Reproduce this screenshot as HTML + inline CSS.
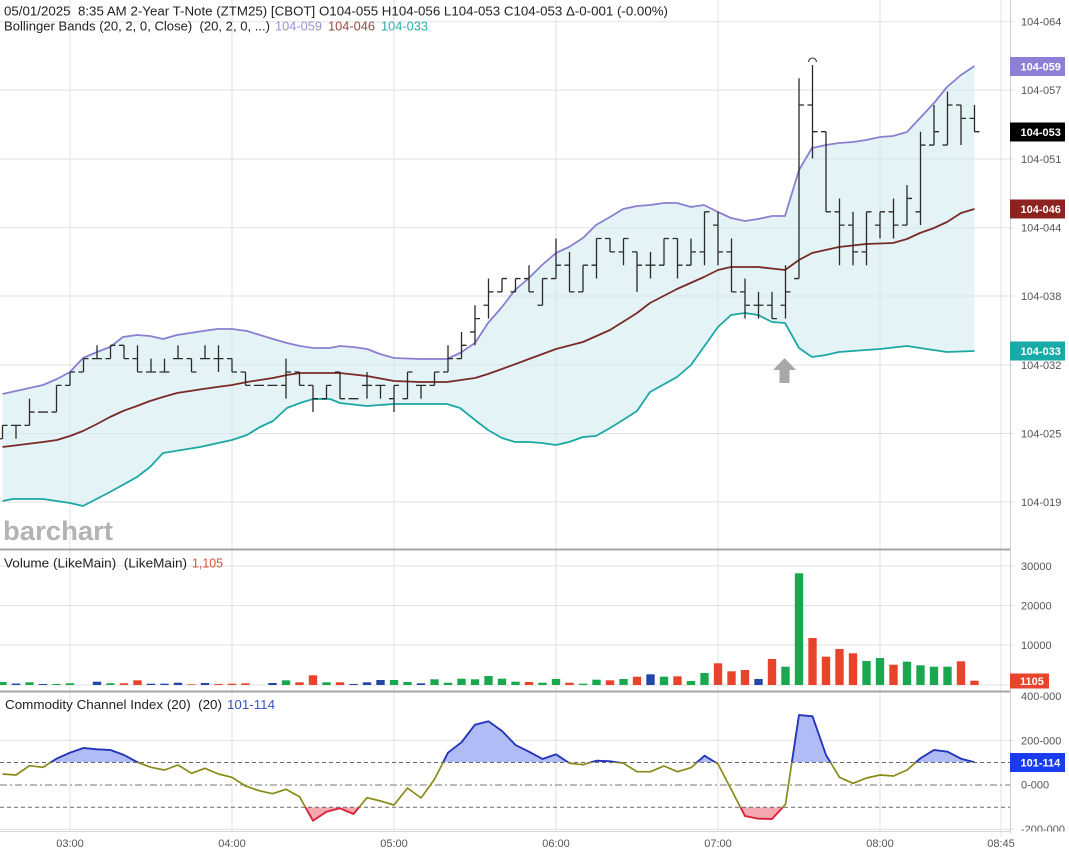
<!DOCTYPE html>
<html><head><meta charset="utf-8"><title>ZTM25 chart</title>
<style>
html,body{margin:0;padding:0;background:#fff;}
svg{display:block;}
text{font-family:"Liberation Sans",sans-serif;}
</style></head>
<body>
<svg width="1069" height="857" viewBox="0 0 1069 857" xmlns="http://www.w3.org/2000/svg">
<defs>
<clipPath id="cciAbove"><rect x="0" y="692" width="1010" height="70.3"/></clipPath>
<clipPath id="cciBelow"><rect x="0" y="807.3" width="1010" height="25"/></clipPath>
<clipPath id="axisC"><rect x="1011" y="692.5" width="58" height="139"/></clipPath>
</defs>
<rect width="1069" height="857" fill="#fff"/>

<!-- vertical gridlines -->
<g stroke="#e2e2e2" stroke-width="1">
<line x1="70" y1="0" x2="70" y2="832"/>
<line x1="232" y1="0" x2="232" y2="832"/>
<line x1="394" y1="0" x2="394" y2="832"/>
<line x1="556" y1="0" x2="556" y2="832"/>
<line x1="718" y1="0" x2="718" y2="832"/>
<line x1="880" y1="0" x2="880" y2="832"/>
<line x1="1001" y1="0" x2="1001" y2="837"/>
</g>
<!-- main horizontal gridlines -->
<g stroke="#e2e2e2" stroke-width="1">
<line x1="0" y1="21.7" x2="1014" y2="21.7"/>
<line x1="0" y1="90" x2="1014" y2="90"/>
<line x1="0" y1="159" x2="1014" y2="159"/>
<line x1="0" y1="227.7" x2="1014" y2="227.7"/>
<line x1="0" y1="296" x2="1014" y2="296"/>
<line x1="0" y1="365" x2="1014" y2="365"/>
<line x1="0" y1="433.5" x2="1014" y2="433.5"/>
<line x1="0" y1="502" x2="1014" y2="502"/>
<!-- volume -->
<line x1="0" y1="566" x2="1014" y2="566"/>
<line x1="0" y1="605.5" x2="1014" y2="605.5"/>
<line x1="0" y1="645" x2="1014" y2="645"/>
<line x1="0" y1="685" x2="1010" y2="685"/>
<!-- cci -->
<line x1="0" y1="740.5" x2="1014" y2="740.5"/>
<line x1="0" y1="829.5" x2="1014" y2="829.5"/>
</g>

<!-- Bollinger fill -->
<polygon fill="#cdeaec" fill-opacity="0.55" points="2.5,394 43,385 57,379 70,372 83,358 97,352 110,347 123,337 137,335 150,336 163,339 177,335 190,333 203,331 217,329 232,329 247,331 260,335 273,339 287,343 300,346 313,348 330,348 340,346 353,347 367,349 380,354 394,358 420,359 447,359 460,353 475,343 488,323 502,307 515,290 529,278 542,265 556,253 569,247 583,238 596,225 610,217 623,209 637,206 650,205 664,203 677,203 691,207 704,205 718,212 731,218 745,221 758,219 772,216 785,216 799,170 812,148 826,145 839,143 853,142 866,140 880,137 893,136 907,132 920,118 934,103 947,87 961,75 974.5,66 974.5,351 947,352 920,348 907,346 880,349 866,350 839,352 826,355 812,357 799,348 785,323 772,322 758,315 745,313 731,315 718,327 691,365 677,377 650,392 637,411 623,420 610,428 596,436 583,437 569,442 556,445 542,443 529,442 515,442 502,438 488,430 475,420 460,408 447,404 420,404 394,404 367,406 340,403 330,399 313,399 300,403 287,408 273,421 260,427 247,435 232,440 200,447 163,453 150,467 137,477 110,492 83,506 70,503 43,499 13,499 2.5,501"/>

<!-- upper band -->
<polyline fill="none" stroke="#8a7fd0" stroke-width="1.8" stroke-linejoin="round" points="2.5,394 43,385 57,379 70,372 83,358 97,352 110,347 123,337 137,335 150,336 163,339 177,335 190,333 203,331 217,329 232,329 247,331 260,335 273,339 287,343 300,346 313,348 330,348 340,346 353,347 367,349 380,354 394,358 420,359 447,359 460,353 475,343 488,323 502,307 515,290 529,278 542,265 556,253 569,247 583,238 596,225 610,217 623,209 637,206 650,205 664,203 677,203 691,207 704,205 718,212 731,218 745,221 758,219 772,216 785,216 799,170 812,148 826,145 839,143 853,142 866,140 880,137 893,136 907,132 920,118 934,103 947,87 961,75 974.5,66"/>
<!-- middle band -->
<polyline fill="none" stroke="#7a2a26" stroke-width="1.8" stroke-linejoin="round" points="2.5,447 43,442 57,440 70,436 83,431 97,424 110,417 123,411 137,406 150,401 163,397 177,393 190,391 203,389 217,387 232,385 247,382 260,380 273,378 287,375 300,373 313,373 330,373 340,373 367,376 394,381 420,382 447,382 475,378 488,374 502,369 529,359 556,349 583,342 610,330 637,313 650,303 677,289 704,277 718,270 731,267 758,267 785,270 799,260 812,253 839,247 866,244 893,243 907,239 920,233 934,228 947,222 961,213 974.5,209"/>
<!-- lower band -->
<polyline fill="none" stroke="#1ba8a3" stroke-width="1.8" stroke-linejoin="round" points="2.5,501 13,499 43,499 70,503 83,506 110,492 137,477 150,467 163,453 200,447 232,440 247,435 260,427 273,421 287,408 300,403 313,399 330,399 340,403 367,406 394,404 420,404 447,404 460,408 475,420 488,430 502,438 515,442 529,442 542,443 556,445 569,442 583,437 596,436 610,428 623,420 637,411 650,392 677,377 691,365 718,327 731,315 745,313 758,315 772,322 785,323 799,348 812,357 826,355 839,352 866,350 880,349 907,346 920,348 947,352 974.5,351"/>

<!-- OHLC bars -->
<g transform="translate(2.5,131.7) scale(13.5,13.35)">
<path fill="none" stroke="#2a2a2a" stroke-width="1.3" vector-effect="non-scaling-stroke" d="M0,22V23M-.37,23H0M0,22H.37 M1,22V23M.63,22H1M1,22H1.37 M2,20V22M1.63,22H2M2,21H2.37 M2.63,21H3.37 M4,19V21M3.63,21H4M4,19H4.37 M5,18V19M4.63,19H5M5,18H5.37 M6,17V18M5.63,18H6M6,17H6.37 M7,16V17M6.63,17H7.37 M8,16V17M7.63,17H8M8,16H8.37 M9,16V17M8.63,16H9M9,17H9.37 M10,16V18M9.63,17H10M10,18H10.37 M11,17V18M10.63,18H11.37 M12,17V18M11.63,18H12.37 M13,16V17M12.63,17H13.37 M14,17V18M13.63,17H14M14,18H14.37 M15,16V17M14.63,17H15.37 M16,16V18M15.63,17H16.37 M17,17V18M16.63,17H17M17,18H17.37 M18,18V19M17.63,18H18M18,19H18.37 M18.63,19H19.37 M19.63,19H20.37 M21,17V20M20.63,19H21M21,18H21.37 M22,18V19M21.63,18H22M22,19H22.37 M23,19V21M22.63,19H23M23,20H23.37 M24,19V20M23.63,20H24M24,19H24.37 M25,18V20M24.63,18H25M25,20H25.37 M25.63,20H26.37 M27,18V20M26.63,19H27.37 M28,19V20M27.63,19H28.37 M29,19V21M28.63,20H29M29,19H29.37 M30,18V20M29.63,20H30M30,18H30.37 M31,19V20M30.63,19H31.37 M32,18V19M31.63,19H32M32,18H32.37 M33,16V18M32.63,18H33M33,17H33.37 M34,15V17M33.63,17H34M34,16H34.37 M35,13V16M34.63,15H35M35,14H35.37 M36,11V14M35.63,13H36M36,12H36.37 M37,11V12M36.63,12H37M37,11H37.37 M38,11V12M37.63,12H38M38,11H38.37 M39,10V12M38.63,11H39M39,12H39.37 M40,11V13M39.63,13H40M40,11H40.37 M41,8V11M40.63,11H41M41,10H41.37 M42,9V12M41.63,10H42M42,12H42.37 M43,10V12M42.63,12H43M43,10H43.37 M44,8V11M43.63,10H44M44,8H44.37 M45,8V9M44.63,8H45M45,9H45.37 M46,8V10M45.63,9H46M46,8H46.37 M47,9V12M46.63,9H47M47,10H47.37 M48,9V11M47.63,10H48.37 M49,8V10M48.63,10H49M49,8H49.37 M50,8V11M49.63,8H50M50,10H50.37 M51,8V10M50.63,10H51M51,9H51.37 M52,6V10M51.63,9H52M52,6H52.37 M53,6V10M52.63,7H53M53,9H53.37 M54,8V12M53.63,9H54M54,12H54.37 M55,11V14M54.63,12H55M55,13H55.37 M56,12V14M55.63,13H56.37 M57,12V14M56.63,13H57M57,14H57.37 M58,10V14M57.63,13H58M58,12H58.37 M59,-4V11M58.63,11H59M59,-2H59.37 M60,-5V2M59.63,-2H60M60,0H60.37 M61,0V6M60.63,0H61M61,6H61.37 M62,5V10M61.63,6H62M62,7H62.37 M63,6V10M62.63,7H63M63,9H63.37 M64,6V10M63.63,9H64M64,6H64.37 M65,6V8M64.63,7H65M65,6H65.37 M66,5V8M65.63,6H66M66,7H66.37 M67,4V7M66.63,7H67M67,5H67.37 M68,0V7M67.63,6H68M68,1H68.37 M69,-2V1M68.63,1H69M69,0H69.37 M70,-3V1M69.63,1H70M70,-2H70.37 M71,-2V1M70.63,-2H71M71,-1H71.37 M72,-2V0M71.63,-1H72M72,0H72.37"/>
</g>
<!-- high marker -->
<path d="M808.5,62 A4,4 0 0 1 816.5,62" fill="none" stroke="#333" stroke-width="1.1"/>
<!-- gray arrow -->
<polygon fill="#a8a8a8" points="784.5,358 796,370 789.5,370 789.5,383 779.5,383 779.5,370 773,370"/>

<!-- watermark -->
<text x="3" y="540" font-size="27" font-weight="bold" fill="#b3b3b3" textLength="110" lengthAdjust="spacingAndGlyphs">barchart</text>

<!-- header -->
<text x="4" y="15.5" font-size="12.5" fill="#222" textLength="664" lengthAdjust="spacingAndGlyphs" style="white-space:pre">05/01/2025  8:35 AM 2-Year T-Note (ZTM25) [CBOT] O104-055 H104-056 L104-053 C104-053 Δ-0-001 (-0.00%)</text>
<text x="4" y="30.5" font-size="12.5" fill="#222" textLength="266" lengthAdjust="spacingAndGlyphs" style="white-space:pre">Bollinger Bands (20, 2, 0, Close)  (20, 2, 0, ...)</text>
<text x="275" y="30.5" font-size="12.5" fill="#9a8fda" textLength="47" lengthAdjust="spacingAndGlyphs">104-059</text>
<text x="328" y="30.5" font-size="12.5" fill="#9a4845" textLength="47" lengthAdjust="spacingAndGlyphs">104-046</text>
<text x="381" y="30.5" font-size="12.5" fill="#2aaeab" textLength="47" lengthAdjust="spacingAndGlyphs">104-033</text>

<!-- panel separators / borders -->
<line x1="0" y1="549.5" x2="1010" y2="549.5" stroke="#a6a6a6" stroke-width="2"/>
<line x1="0" y1="691.5" x2="1010" y2="691.5" stroke="#a6a6a6" stroke-width="2"/>
<line x1="1010.5" y1="0" x2="1010.5" y2="833" stroke="#cfcfcf" stroke-width="1"/>

<!-- volume panel -->
<text x="4" y="567.5" font-size="12.5" fill="#222" textLength="183" lengthAdjust="spacingAndGlyphs" style="white-space:pre">Volume (LikeMain)  (LikeMain)</text>
<text x="192" y="567.5" font-size="12.5" fill="#d9503e" textLength="31" lengthAdjust="spacingAndGlyphs">1,105</text>
<g transform="translate(2.5,685) scale(13.5,-1)">
<g fill="#19a84e">
<rect x="-0.31" y="0" width="0.62" height="3"/>
<rect x="1.69" y="0" width="0.62" height="2.7"/>
<rect x="3.69" y="0" width="0.62" height="1"/>
<rect x="4.69" y="0" width="0.62" height="1.7"/>
<rect x="7.69" y="0" width="0.62" height="1.7"/>
<rect x="20.69" y="0" width="0.62" height="4.7"/>
<rect x="23.69" y="0" width="0.62" height="2.7"/>
<rect x="28.69" y="0" width="0.62" height="5"/>
<rect x="29.69" y="0" width="0.62" height="3"/>
<rect x="31.69" y="0" width="0.62" height="5.7"/>
<rect x="32.69" y="0" width="0.62" height="2.3"/>
<rect x="33.69" y="0" width="0.62" height="6.3"/>
<rect x="34.69" y="0" width="0.62" height="5.7"/>
<rect x="35.69" y="0" width="0.62" height="9"/>
<rect x="36.69" y="0" width="0.62" height="6.3"/>
<rect x="37.69" y="0" width="0.62" height="3.3"/>
<rect x="39.69" y="0" width="0.62" height="2.3"/>
<rect x="40.69" y="0" width="0.62" height="6"/>
<rect x="42.69" y="0" width="0.62" height="1.3"/>
<rect x="43.69" y="0" width="0.62" height="5.3"/>
<rect x="45.69" y="0" width="0.62" height="6"/>
<rect x="48.69" y="0" width="0.62" height="8.3"/>
<rect x="50.69" y="0" width="0.62" height="4"/>
<rect x="51.69" y="0" width="0.62" height="12"/>
<rect x="57.69" y="0" width="0.62" height="18.3"/>
<rect x="58.69" y="0" width="0.62" height="111.7"/>
<rect x="63.69" y="0" width="0.62" height="24"/>
<rect x="64.69" y="0" width="0.62" height="27"/>
<rect x="66.69" y="0" width="0.62" height="23.3"/>
<rect x="67.69" y="0" width="0.62" height="19.7"/>
<rect x="68.69" y="0" width="0.62" height="18.3"/>
<rect x="69.69" y="0" width="0.62" height="18.3"/>
</g>
<g fill="#e8432b">
<rect x="8.69" y="0" width="0.62" height="1.7"/>
<rect x="9.69" y="0" width="0.62" height="4.7"/>
<rect x="13.69" y="0" width="0.62" height="0.7"/>
<rect x="15.69" y="0" width="0.62" height="1"/>
<rect x="16.69" y="0" width="0.62" height="1.3"/>
<rect x="17.69" y="0" width="0.62" height="1.7"/>
<rect x="21.69" y="0" width="0.62" height="2.7"/>
<rect x="22.69" y="0" width="0.62" height="9.7"/>
<rect x="24.69" y="0" width="0.62" height="2.7"/>
<rect x="38.69" y="0" width="0.62" height="3"/>
<rect x="41.69" y="0" width="0.62" height="2.3"/>
<rect x="44.69" y="0" width="0.62" height="4.7"/>
<rect x="46.69" y="0" width="0.62" height="8.3"/>
<rect x="49.69" y="0" width="0.62" height="8.7"/>
<rect x="52.69" y="0" width="0.62" height="21.7"/>
<rect x="53.69" y="0" width="0.62" height="13.7"/>
<rect x="54.69" y="0" width="0.62" height="15"/>
<rect x="56.69" y="0" width="0.62" height="26"/>
<rect x="59.69" y="0" width="0.62" height="47"/>
<rect x="60.69" y="0" width="0.62" height="28.3"/>
<rect x="61.69" y="0" width="0.62" height="36"/>
<rect x="62.69" y="0" width="0.62" height="31.7"/>
<rect x="65.69" y="0" width="0.62" height="20.3"/>
<rect x="70.69" y="0" width="0.62" height="23.7"/>
<rect x="71.69" y="0" width="0.62" height="4.3"/>
</g>
<g fill="#2446a6">
<rect x="0.69" y="0" width="0.62" height="1.5"/>
<rect x="2.69" y="0" width="0.62" height="1"/>
<rect x="6.69" y="0" width="0.62" height="3.3"/>
<rect x="10.69" y="0" width="0.62" height="1.3"/>
<rect x="11.69" y="0" width="0.62" height="1.3"/>
<rect x="12.69" y="0" width="0.62" height="2.3"/>
<rect x="14.69" y="0" width="0.62" height="2"/>
<rect x="19.69" y="0" width="0.62" height="2"/>
<rect x="25.69" y="0" width="0.62" height="1"/>
<rect x="26.69" y="0" width="0.62" height="2.7"/>
<rect x="27.69" y="0" width="0.62" height="5"/>
<rect x="30.69" y="0" width="0.62" height="1.7"/>
<rect x="47.69" y="0" width="0.62" height="10.7"/>
<rect x="55.69" y="0" width="0.62" height="6"/>
</g>
</g>

<!-- CCI panel -->
<text x="5" y="709" font-size="12.5" fill="#222" textLength="217" lengthAdjust="spacingAndGlyphs" style="white-space:pre">Commodity Channel Index (20)  (20)</text>
<text x="227" y="709" font-size="12.5" fill="#3a52c4" textLength="48" lengthAdjust="spacingAndGlyphs">101-114</text>

<g clip-path="url(#cciAbove)">
<g transform="translate(2.5,0) scale(13.5,1)">
<polygon fill="#a9b5f5" fill-opacity="0.9" points="0,762.3 0,774 1,775 2,765.7 3,767.3 4,758.7 5,752.7 6,748 7,749.3 8,750 9,755 10,762.3 11,767.3 12,770 13,765 14,773.3 15,768.3 16,774 17,777.3 18,786 19,790.7 20,793.7 21,789.3 22,796.7 23,820.7 24,811.7 25,808.3 26,814 27,797.7 28,801 29,805 30,788 31,798 32,779.3 33,752.7 34,742.3 35,724.7 36,721.3 37,731 38,745 39,751.7 40,759 41,754.3 42,763.3 43,764.7 44,760.7 45,761.3 46,763.3 47,771.7 48,771.7 49,766 50,771.7 51,767.7 52,755.7 53,764 54,790 55,816 56,818.7 57,819 58,804.3 59,715 60,716.3 61,755 62,777.3 63,783.3 64,778 65,775 66,776 67,770 68,758.3 69,750 70,751.7 71,758.7 72,762.3 72,762.3"/>
</g>
</g>
<g clip-path="url(#cciBelow)">
<g transform="translate(2.5,0) scale(13.5,1)">
<polygon fill="#f6a7b0" points="0,807.3 0,774 1,775 2,765.7 3,767.3 4,758.7 5,752.7 6,748 7,749.3 8,750 9,755 10,762.3 11,767.3 12,770 13,765 14,773.3 15,768.3 16,774 17,777.3 18,786 19,790.7 20,793.7 21,789.3 22,796.7 23,820.7 24,811.7 25,808.3 26,814 27,797.7 28,801 29,805 30,788 31,798 32,779.3 33,752.7 34,742.3 35,724.7 36,721.3 37,731 38,745 39,751.7 40,759 41,754.3 42,763.3 43,764.7 44,760.7 45,761.3 46,763.3 47,771.7 48,771.7 49,766 50,771.7 51,767.7 52,755.7 53,764 54,790 55,816 56,818.7 57,819 58,804.3 59,715 60,716.3 61,755 62,777.3 63,783.3 64,778 65,775 66,776 67,770 68,758.3 69,750 70,751.7 71,758.7 72,762.3 72,807.3"/>
</g>
</g>

<!-- CCI reference lines -->
<line x1="0" y1="762.5" x2="1010" y2="762.5" stroke="#6a6a6a" stroke-width="1" stroke-dasharray="4,3"/>
<line x1="0" y1="785" x2="1010" y2="785" stroke="#7a7a7a" stroke-width="1" stroke-dasharray="7,3,2,3"/>
<line x1="0" y1="807.3" x2="1010" y2="807.3" stroke="#6a6a6a" stroke-width="1" stroke-dasharray="4,3"/>

<!-- CCI line (olive base) -->
<g transform="translate(2.5,0) scale(13.5,1)">
<polyline fill="none" stroke="#8a8a18" stroke-width="1.7" vector-effect="non-scaling-stroke" stroke-linejoin="round" points="0,774 1,775 2,765.7 3,767.3 4,758.7 5,752.7 6,748 7,749.3 8,750 9,755 10,762.3 11,767.3 12,770 13,765 14,773.3 15,768.3 16,774 17,777.3 18,786 19,790.7 20,793.7 21,789.3 22,796.7 23,820.7 24,811.7 25,808.3 26,814 27,797.7 28,801 29,805 30,788 31,798 32,779.3 33,752.7 34,742.3 35,724.7 36,721.3 37,731 38,745 39,751.7 40,759 41,754.3 42,763.3 43,764.7 44,760.7 45,761.3 46,763.3 47,771.7 48,771.7 49,766 50,771.7 51,767.7 52,755.7 53,764 54,790 55,816 56,818.7 57,819 58,804.3 59,715 60,716.3 61,755 62,777.3 63,783.3 64,778 65,775 66,776 67,770 68,758.3 69,750 70,751.7 71,758.7 72,762.3"/>
</g>
<g clip-path="url(#cciAbove)">
<g transform="translate(2.5,0) scale(13.5,1)">
<polyline fill="none" stroke="#2234c4" stroke-width="1.8" vector-effect="non-scaling-stroke" stroke-linejoin="round" points="0,774 1,775 2,765.7 3,767.3 4,758.7 5,752.7 6,748 7,749.3 8,750 9,755 10,762.3 11,767.3 12,770 13,765 14,773.3 15,768.3 16,774 17,777.3 18,786 19,790.7 20,793.7 21,789.3 22,796.7 23,820.7 24,811.7 25,808.3 26,814 27,797.7 28,801 29,805 30,788 31,798 32,779.3 33,752.7 34,742.3 35,724.7 36,721.3 37,731 38,745 39,751.7 40,759 41,754.3 42,763.3 43,764.7 44,760.7 45,761.3 46,763.3 47,771.7 48,771.7 49,766 50,771.7 51,767.7 52,755.7 53,764 54,790 55,816 56,818.7 57,819 58,804.3 59,715 60,716.3 61,755 62,777.3 63,783.3 64,778 65,775 66,776 67,770 68,758.3 69,750 70,751.7 71,758.7 72,762.3"/>
</g>
</g>
<g clip-path="url(#cciBelow)">
<g transform="translate(2.5,0) scale(13.5,1)">
<polyline fill="none" stroke="#df2040" stroke-width="1.8" vector-effect="non-scaling-stroke" stroke-linejoin="round" points="0,774 1,775 2,765.7 3,767.3 4,758.7 5,752.7 6,748 7,749.3 8,750 9,755 10,762.3 11,767.3 12,770 13,765 14,773.3 15,768.3 16,774 17,777.3 18,786 19,790.7 20,793.7 21,789.3 22,796.7 23,820.7 24,811.7 25,808.3 26,814 27,797.7 28,801 29,805 30,788 31,798 32,779.3 33,752.7 34,742.3 35,724.7 36,721.3 37,731 38,745 39,751.7 40,759 41,754.3 42,763.3 43,764.7 44,760.7 45,761.3 46,763.3 47,771.7 48,771.7 49,766 50,771.7 51,767.7 52,755.7 53,764 54,790 55,816 56,818.7 57,819 58,804.3 59,715 60,716.3 61,755 62,777.3 63,783.3 64,778 65,775 66,776 67,770 68,758.3 69,750 70,751.7 71,758.7 72,762.3"/>
</g>
</g>
<line x1="0" y1="831.5" x2="1010" y2="831.5" stroke="#d6d6d6" stroke-width="1"/>

<!-- right axis labels -->
<g font-size="11" fill="#555">
<text x="1021" y="25.5">104-064</text>
<text x="1021" y="94">104-057</text>
<text x="1021" y="163">104-051</text>
<text x="1021" y="231.7">104-044</text>
<text x="1021" y="300">104-038</text>
<text x="1021" y="369">104-032</text>
<text x="1021" y="437.5">104-025</text>
<text x="1021" y="506">104-019</text>
<text x="1021" y="570">30000</text>
<text x="1021" y="609.5">20000</text>
<text x="1021" y="649">10000</text>
<g clip-path="url(#axisC)">
<text x="1021" y="700">400-000</text>
<text x="1021" y="744.5">200-000</text>
<text x="1021" y="788.5">0-000</text>
<text x="1021" y="833">-200-000</text>
</g>
</g>

<!-- value boxes -->
<rect x="1010" y="57" width="55" height="19" fill="#8c80d6"/>
<text x="1020.5" y="70.5" font-size="11" font-weight="bold" fill="#fff">104-059</text>
<rect x="1010" y="122.5" width="55" height="19" fill="#000"/>
<text x="1020.5" y="136" font-size="11" font-weight="bold" fill="#fff">104-053</text>
<rect x="1010" y="199.5" width="55" height="19" fill="#8c231f"/>
<text x="1020.5" y="213" font-size="11" font-weight="bold" fill="#fff">104-046</text>
<rect x="1010" y="341.5" width="55" height="19" fill="#17aaa6"/>
<text x="1020.5" y="355" font-size="11" font-weight="bold" fill="#fff">104-033</text>
<rect x="1010" y="673.5" width="39" height="15" fill="#e8432b"/>
<text x="1020" y="685" font-size="11" font-weight="bold" fill="#fff">1105</text>
<rect x="1010" y="753" width="55" height="19" fill="#1a3cf0"/>
<text x="1020.5" y="766.5" font-size="11" font-weight="bold" fill="#fff">101-114</text>

<!-- x axis labels -->
<g font-size="11" fill="#555" text-anchor="middle">
<text x="70" y="847">03:00</text>
<text x="232" y="847">04:00</text>
<text x="394" y="847">05:00</text>
<text x="556" y="847">06:00</text>
<text x="718" y="847">07:00</text>
<text x="880" y="847">08:00</text>
<text x="1001" y="847">08:45</text>
</g>
</svg>
</body></html>
